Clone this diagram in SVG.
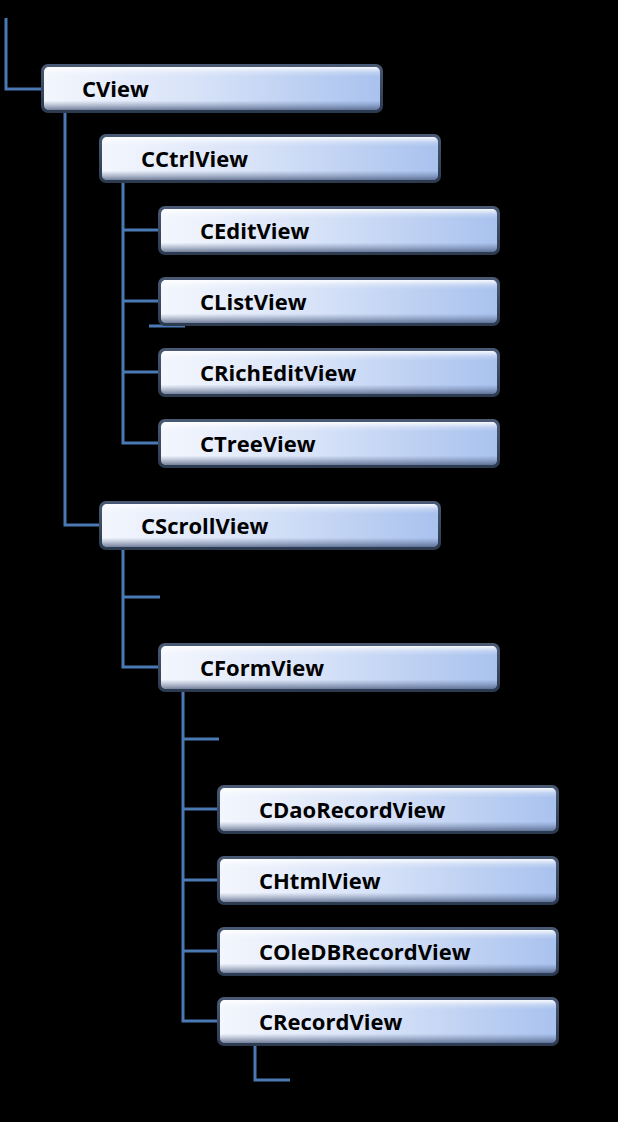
<svg xmlns="http://www.w3.org/2000/svg" width="618" height="1122" viewBox="0 0 618 1122">
<defs>
<linearGradient id="gH" x1="0" y1="0" x2="1" y2="0">
<stop offset="0" stop-color="#f3f6fd"/>
<stop offset="0.45" stop-color="#d8e3f8"/>
<stop offset="1" stop-color="#a9c2ee"/>
</linearGradient>
<linearGradient id="gV" x1="0" y1="0" x2="0" y2="1">
<stop offset="0" stop-color="#ffffff" stop-opacity="0.9"/>
<stop offset="0.12" stop-color="#ffffff" stop-opacity="0.25"/>
<stop offset="0.22" stop-color="#ffffff" stop-opacity="0"/>
<stop offset="0.78" stop-color="#5a6c90" stop-opacity="0"/>
<stop offset="1" stop-color="#3e4e70" stop-opacity="0.7"/>
</linearGradient>
<linearGradient id="gB" x1="0" y1="0" x2="0" y2="1">
<stop offset="0" stop-color="#4a5a74"/>
<stop offset="1" stop-color="#2c3a50"/>
</linearGradient>
</defs>
<style>
.outer{fill:url(#gB);}
.inner{fill:url(#gH);}
.bevel{fill:url(#gV);}
.lbl{font-family:"Open Sans","Noto Sans","DejaVu Sans",sans-serif;font-weight:bold;font-size:22px;fill:#000;}
.conn{fill:none;stroke:#4a79b4;stroke-width:3;}
</style>
<rect width="618" height="1122" fill="#000"/>
<g id="connectors">
<path class="conn" d="M6,18 V89 H41"/>
<path class="conn" d="M65,113 V525 H99"/>
<path class="conn" d="M123,183 V443 H158 M123,230 H158 M123,301 H158 M123,372 H158"/>
<path class="conn" d="M149,326 H185"/>
<path class="conn" d="M123,550 V667 H158 M123,597 H160"/>
<path class="conn" d="M183,692 V1021 H217 M183,739 H219 M183,809 H217 M183,880 H217 M183,951 H217"/>
<path class="conn" d="M255,1046 V1080 H290"/>
</g>
<g id="CView" transform="translate(41,64)">
<rect class="outer" width="342" height="49" rx="7"/><rect class="inner" x="3" y="3" width="336" height="43" rx="5"/><rect class="bevel" x="3" y="3" width="336" height="43" rx="5"/>
<text class="lbl" x="41" y="33">CView</text></g>
<g id="CCtrlView" transform="translate(99,134)">
<rect class="outer" width="342" height="49" rx="7"/><rect class="inner" x="3" y="3" width="336" height="43" rx="5"/><rect class="bevel" x="3" y="3" width="336" height="43" rx="5"/>
<text class="lbl" x="42" y="33">CCtrlView</text></g>
<g id="CEditView" transform="translate(158,206)">
<rect class="outer" width="342" height="49" rx="7"/><rect class="inner" x="3" y="3" width="336" height="43" rx="5"/><rect class="bevel" x="3" y="3" width="336" height="43" rx="5"/>
<text class="lbl" x="42" y="33">CEditView</text></g>
<g id="CListView" transform="translate(158,277)">
<rect class="outer" width="342" height="49" rx="7"/><rect class="inner" x="3" y="3" width="336" height="43" rx="5"/><rect class="bevel" x="3" y="3" width="336" height="43" rx="5"/>
<text class="lbl" x="42" y="33">CListView</text></g>
<g id="CRichEditView" transform="translate(158,348)">
<rect class="outer" width="342" height="49" rx="7"/><rect class="inner" x="3" y="3" width="336" height="43" rx="5"/><rect class="bevel" x="3" y="3" width="336" height="43" rx="5"/>
<text class="lbl" x="42" y="33">CRichEditView</text></g>
<g id="CTreeView" transform="translate(158,419)">
<rect class="outer" width="342" height="49" rx="7"/><rect class="inner" x="3" y="3" width="336" height="43" rx="5"/><rect class="bevel" x="3" y="3" width="336" height="43" rx="5"/>
<text class="lbl" x="42" y="33">CTreeView</text></g>
<g id="CScrollView" transform="translate(99,501)">
<rect class="outer" width="342" height="49" rx="7"/><rect class="inner" x="3" y="3" width="336" height="43" rx="5"/><rect class="bevel" x="3" y="3" width="336" height="43" rx="5"/>
<text class="lbl" x="42" y="33">CScrollView</text></g>
<g id="CFormView" transform="translate(158,643)">
<rect class="outer" width="342" height="49" rx="7"/><rect class="inner" x="3" y="3" width="336" height="43" rx="5"/><rect class="bevel" x="3" y="3" width="336" height="43" rx="5"/>
<text class="lbl" x="42" y="33">CFormView</text></g>
<g id="CDaoRecordView" transform="translate(217,785)">
<rect class="outer" width="342" height="49" rx="7"/><rect class="inner" x="3" y="3" width="336" height="43" rx="5"/><rect class="bevel" x="3" y="3" width="336" height="43" rx="5"/>
<text class="lbl" x="42" y="33">CDaoRecordView</text></g>
<g id="CHtmlView" transform="translate(217,856)">
<rect class="outer" width="342" height="49" rx="7"/><rect class="inner" x="3" y="3" width="336" height="43" rx="5"/><rect class="bevel" x="3" y="3" width="336" height="43" rx="5"/>
<text class="lbl" x="42" y="33">CHtmlView</text></g>
<g id="COleDBRecordView" transform="translate(217,927)">
<rect class="outer" width="342" height="49" rx="7"/><rect class="inner" x="3" y="3" width="336" height="43" rx="5"/><rect class="bevel" x="3" y="3" width="336" height="43" rx="5"/>
<text class="lbl" x="42" y="33">COleDBRecordView</text></g>
<g id="CRecordView" transform="translate(217,997)">
<rect class="outer" width="342" height="49" rx="7"/><rect class="inner" x="3" y="3" width="336" height="43" rx="5"/><rect class="bevel" x="3" y="3" width="336" height="43" rx="5"/>
<text class="lbl" x="42" y="33">CRecordView</text></g>
</svg>
